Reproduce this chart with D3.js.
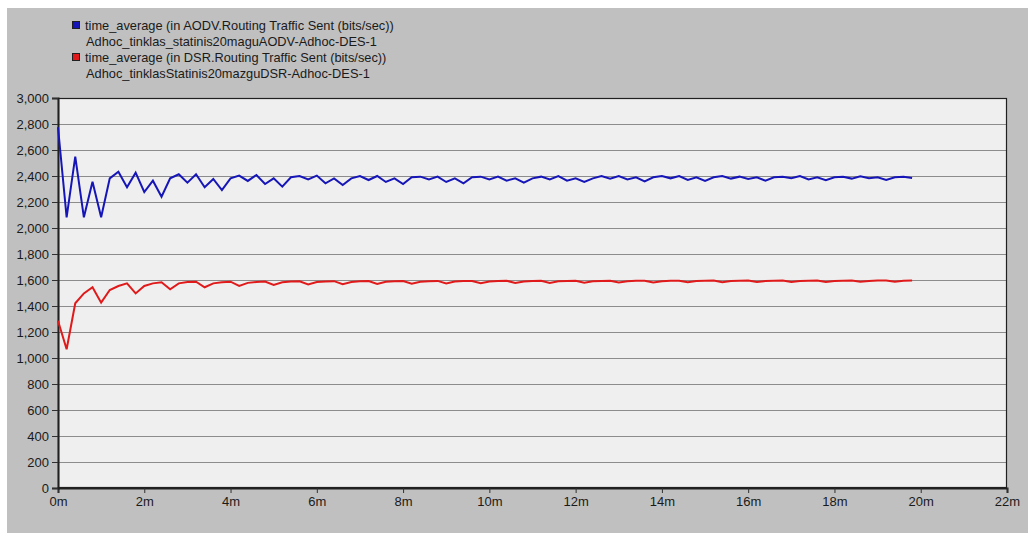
<!DOCTYPE html>
<html>
<head>
<meta charset="utf-8">
<script src="https://cdnjs.cloudflare.com/ajax/libs/d3/7.8.5/d3.min.js"></script>
<style>
  body { margin: 0; background: #fff; }
  svg { display: block; font-family: "Liberation Sans", Arial, sans-serif; }
  .tick text { font-size: 13px; fill: #1a1a1a; }
</style>
</head>
<body>
<div id="chart"></div>
<script>
// sample times (minutes)
var times = [0,0.2,0.4,0.6,0.8,1,1.2,1.4,1.6,1.8,2,2.2,2.4,2.6,2.8,3,3.2,3.4,3.6,3.8,
  4,4.2,4.4,4.6,4.8,5,5.2,5.4,5.6,5.8,6,6.2,6.4,6.6,6.8,7,7.2,7.4,7.6,7.8,
  8,8.2,8.4,8.6,8.8,9,9.2,9.4,9.6,9.8,10,10.2,10.4,10.6,10.8,11,11.2,11.4,11.6,11.8,
  12,12.2,12.4,12.6,12.8,13,13.2,13.4,13.6,13.8,14,14.2,14.4,14.6,14.8,15,15.2,15.4,15.6,15.8,
  16,16.2,16.4,16.6,16.8,17,17.2,17.4,17.6,17.8,18,18.2,18.4,18.6,18.8,19,19.2,19.4,19.6,19.8];

// AODV routing traffic sent (bits/sec)
var aodv = [2775,2082,2549,2082,2356,2082,2382,2433,2313,2426,2277,2364,2241,2382,2413,2349,2413,2313,2377,2292,
  2382,2403,2362,2408,2338,2382,2318,2390,2400,2374,2403,2344,2382,2331,2382,2400,2369,2400,2354,2382,
  2338,2390,2395,2374,2395,2354,2382,2344,2390,2395,2374,2395,2364,2382,2349,2382,2395,2374,2400,2364,
  2382,2354,2382,2400,2380,2400,2374,2390,2359,2390,2400,2382,2400,2369,2390,2362,2390,2400,2380,2395,
  2377,2390,2364,2390,2395,2382,2400,2374,2390,2367,2390,2395,2380,2397,2382,2390,2369,2390,2395,2385];

// DSR routing traffic sent (bits/sec)
var dsr = [1287,1067,1421,1497,1544,1426,1523,1554,1574,1497,1554,1574,1582,1528,1574,1585,1587,1544,1574,1582,
  1587,1554,1578,1585,1588,1562,1582,1588,1590,1566,1584,1589,1591,1568,1585,1590,1592,1570,1586,1591,
  1592,1572,1587,1591,1593,1574,1588,1592,1593,1575,1588,1592,1594,1577,1589,1593,1594,1578,1590,1593,
  1594,1579,1590,1593,1595,1580,1591,1594,1595,1581,1591,1594,1595,1582,1592,1594,1596,1583,1592,1595,
  1596,1584,1592,1595,1596,1585,1593,1595,1596,1585,1593,1595,1597,1586,1593,1596,1597,1586,1594,1596];

var xTicks = [0,2,4,6,8,10,12,14,16,18,20,22];
var yTicks = [0,200,400,600,800,1000,1200,1400,1600,1800,2000,2200,2400,2600,2800,3000];

var legendItems = [
  {color: "#1616b8", line1: "time_average (in AODV.Routing Traffic Sent (bits/sec))", line2: "Adhoc_tinklas_statinis20maguAODV-Adhoc-DES-1"},
  {color: "#e01a1a", line1: "time_average (in DSR.Routing Traffic Sent (bits/sec))", line2: "Adhoc_tinklasStatinis20mazguDSR-Adhoc-DES-1"}
];

var svgWidth = 1028, svgHeight = 533;
var plot = {left: 58, right: 1007, top: 98, bottom: 488};

var svg = d3.select("#chart").append("svg")
  .attr("width", svgWidth)
  .attr("height", svgHeight);

// outer gray panel
svg.append("rect").attr("x", 7).attr("y", 8)
  .attr("width", svgWidth - 7).attr("height", svgHeight - 8)
  .attr("fill", "#c0c0c0");

var xScale = d3.scaleLinear().domain([0, 22]).range([plot.left, plot.right]);
var yScale = d3.scaleLinear().domain([0, 3000]).range([plot.bottom, plot.top]);

// plot background
svg.append("rect")
  .attr("x", plot.left).attr("y", plot.top)
  .attr("width", plot.right - plot.left).attr("height", plot.bottom - plot.top)
  .attr("fill", "#efefef");

// horizontal gridlines
svg.append("g").selectAll("line").data(yTicks.slice(1, -1)).enter().append("line")
  .attr("x1", plot.left).attr("x2", plot.right)
  .attr("y1", function(d) { return Math.round(yScale(d)) + 0.5; })
  .attr("y2", function(d) { return Math.round(yScale(d)) + 0.5; })
  .attr("stroke", "#8c8c8c").attr("stroke-width", 1.2);

// frame
svg.append("rect")
  .attr("x", plot.left + 0.5).attr("y", plot.top + 0.5)
  .attr("width", plot.right - plot.left - 1).attr("height", plot.bottom - plot.top - 1)
  .attr("fill", "none").attr("stroke", "#202020").attr("stroke-width", 1.2);

// axes
var bottomAxis = d3.axisBottom(xScale).tickValues(xTicks)
  .tickFormat(function(d) { return d + "m"; }).tickSize(5).tickPadding(4);
var leftAxis = d3.axisLeft(yScale).tickValues(yTicks)
  .tickFormat(d3.format(",")).tickSize(6).tickPadding(3);

var gx = svg.append("g").attr("transform", "translate(0," + plot.bottom + ")").call(bottomAxis);
var gy = svg.append("g").attr("transform", "translate(" + plot.left + ",0)").call(leftAxis);
[gx, gy].forEach(function(g) {
  g.select(".domain").attr("stroke", "#202020").attr("stroke-width", 2);
  g.selectAll(".tick line").attr("stroke", "#303030");
});

// series lines
var line = d3.line()
  .x(function(d, i) { return xScale(times[i]); })
  .y(function(d) { return yScale(d); });

svg.append("path").datum(dsr)
  .attr("d", line).attr("fill", "none")
  .attr("stroke", legendItems[1].color).attr("stroke-width", 2);
svg.append("path").datum(aodv)
  .attr("d", line).attr("fill", "none")
  .attr("stroke", legendItems[0].color).attr("stroke-width", 2);

// legend
var legend = svg.append("g").selectAll("g").data(legendItems).enter().append("g")
  .attr("transform", function(d, i) { return "translate(72," + (21 + i * 32) + ")"; });
legend.append("rect").attr("x", 0.5).attr("y", 0.5).attr("width", 7).attr("height", 7)
  .attr("fill", function(d) { return d.color; }).attr("stroke", "#202020");
legend.append("text").attr("x", 13).attr("y", 9)
  .attr("font-size", "12.8px").attr("fill", "#1a1a1a")
  .text(function(d) { return d.line1; });
legend.append("text").attr("x", 14).attr("y", 25)
  .attr("font-size", "12.8px").attr("fill", "#1a1a1a")
  .text(function(d) { return d.line2; });
</script>
</body>
</html>
